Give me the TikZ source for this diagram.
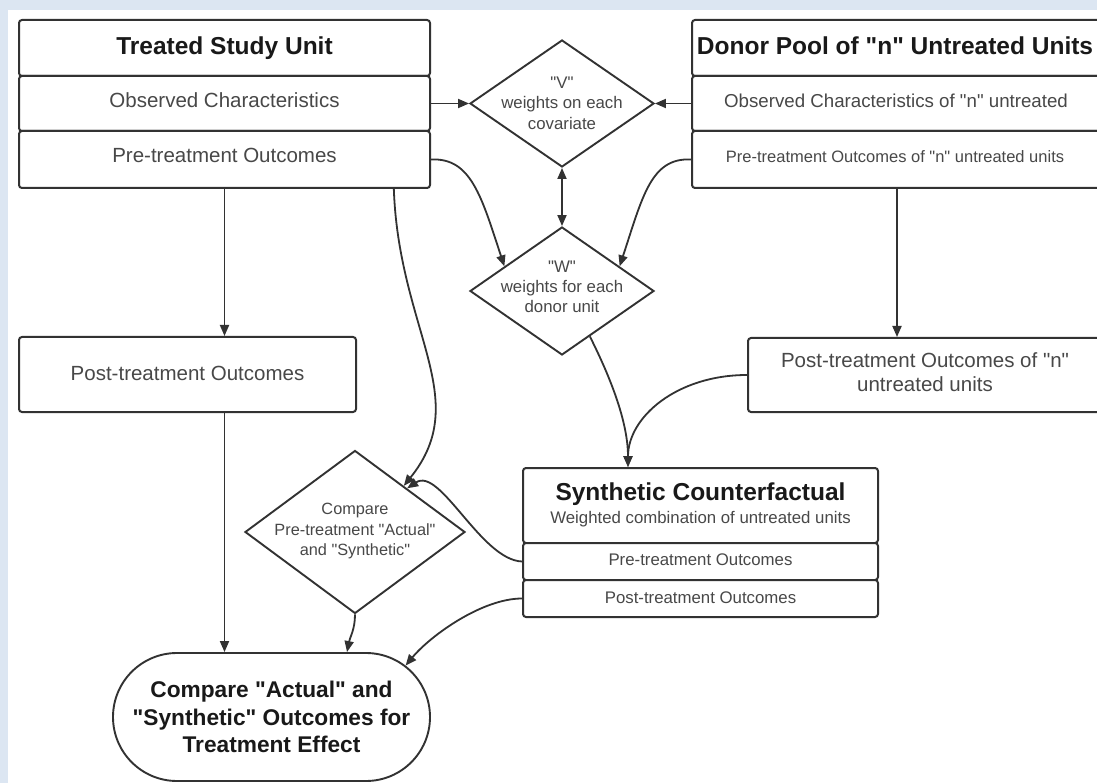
\documentclass[tikz,border=0pt]{standalone}
\usepackage{fontspec}
\setmainfont{Liberation Sans}
\usetikzlibrary{shapes.geometric,shapes.misc,arrows.meta,calc}
\definecolor{bgblue}{RGB}{220,230,242}
\definecolor{lnc}{RGB}{50,50,50}
\definecolor{txg}{RGB}{72,72,72}
\definecolor{txd}{RGB}{25,25,25}
\newcommand{\dq}{\textquotedbl}
\begin{document}
\begin{tikzpicture}[x=1pt,y=-1pt,
  row/.style={draw=lnc, line width=2pt, rounded corners=3pt, fill=white, inner sep=0pt},
  dia/.style={draw=lnc, line width=1.9pt, diamond, inner sep=0pt, fill=white},
  lbl/.style={anchor=base, inner sep=0pt, text=txg},
  ttl/.style={anchor=base, inner sep=0pt, text=txd, font=\fontsize{24.5}{28}\selectfont\bfseries},
  big/.style={font=\fontsize{20.5}{24}\selectfont},
  mid/.style={font=\fontsize{16.8}{20}\selectfont},
  conn/.style={draw=lnc, line width=1.8pt, -{Triangle[length=11pt,width=9pt]}},
  conn2/.style={draw=lnc, line width=1.8pt, {Triangle[length=11pt,width=9pt]}-{Triangle[length=11pt,width=9pt]}},
]
\useasboundingbox (0,0) rectangle (1097,783);
\clip (0,0) rectangle (1097,783);
\fill[bgblue] (0,0) rectangle (1097,783);
\fill[white] (8,10) rectangle (1097,783);

% Treated study unit
\node[row, minimum width=411pt, minimum height=56pt] (ttitle) at (224.5,48) {};
\node[row, minimum width=411pt, minimum height=55pt] (tobs) at (224.5,103.5) {};
\node[row, minimum width=411pt, minimum height=57pt] (tpre) at (224.5,159.5) {};
\node[ttl] (ttitleT) at (224.5,55) {Treated Study Unit};
\node[lbl, big] (tobsT) at (224.5,108) {Observed Characteristics};
\node[lbl, big] (tpreT) at (224.5,162.5) {Pre-treatment Outcomes};

% Donor pool
\node[row, minimum width=410pt, minimum height=56pt] (dtitle) at (897,48) {};
\node[row, minimum width=410pt, minimum height=55pt] (dobs) at (897,103.5) {};
\node[row, minimum width=410pt, minimum height=57pt] (dpre) at (897,159.5) {};
\node[ttl] (dtitleT) at (895,55) {Donor Pool of \dq n\dq\ Untreated Units};
\node[lbl, font=\fontsize{18.7}{22}\selectfont] (dobsT) at (896,108) {Observed Characteristics of \dq n\dq\ untreated};
\node[lbl, font=\fontsize{16.5}{20}\selectfont] (dpreT) at (895,162.5) {Pre-treatment Outcomes of \dq n\dq\ untreated units};

% V and W diamonds
\node[dia, minimum width=184pt, minimum height=127pt] (V) at (562,103.5) {};
\node[lbl, mid] (V1) at ($(V)+(0,-15)$) {\dq V\dq};
\node[lbl, mid] (V2) at ($(V)+(0,5.5)$) {weights on each};
\node[lbl, mid] (V3) at ($(V)+(0,26)$) {covariate};

\node[dia, minimum width=184pt, minimum height=128pt] (W) at (562,291) {};
\node[lbl, mid] (W1) at ($(W)+(0,-18)$) {\dq W\dq};
\node[lbl, mid] (W2) at ($(W)+(0,2)$) {weights for each};
\node[lbl, mid] (W3) at ($(W)+(0,21.5)$) {donor unit};

% Post-treatment boxes
\node[row, minimum width=337pt, minimum height=75pt] (lpost) at (187.5,374.5) {};
\node[lbl, big] (lpostT) at (187.5,380.5) {Post-treatment Outcomes};
\node[row, minimum width=354pt, minimum height=74pt] (dpost) at (925,375) {};
\node[lbl, big] (dpostT1) at (925,367.5) {Post-treatment Outcomes of \dq n\dq};
\node[lbl, big] (dpostT2) at (925,391.5) {untreated units};

% Compare diamond
\node[dia, minimum width=220pt, minimum height=163pt] (C) at (355,532) {};
\node[lbl, font=\fontsize{16.3}{20}\selectfont] (C1) at ($(C)+(0,-17.5)$) {Compare};
\node[lbl, font=\fontsize{16.3}{20}\selectfont] (C2) at ($(C)+(0,3)$) {Pre-treatment \dq Actual\dq};
\node[lbl, font=\fontsize{16.3}{20}\selectfont] (C3) at ($(C)+(0,23.5)$) {and \dq Synthetic\dq};

% Synthetic counterfactual
\node[row, minimum width=355pt, minimum height=75pt] (stitle) at (700.5,505.5) {};
\node[row, minimum width=355pt, minimum height=37pt] (spre) at (700.5,561.5) {};
\node[row, minimum width=355pt, minimum height=37pt] (spost) at (700.5,598.5) {};
\node[ttl] (stitleT) at (700.5,500) {Synthetic Counterfactual};
\node[lbl, mid] (ssubT) at (700.5,523) {Weighted combination of untreated units};
\node[lbl, mid] (spreT) at (700.5,565.5) {Pre-treatment Outcomes};
\node[lbl, mid] (spostT) at (700.5,603) {Post-treatment Outcomes};

% Final oval
\node[draw=lnc, line width=1.9pt, rounded rectangle, fill=white, inner sep=0pt,
      minimum width=317pt, minimum height=128pt] (O) at (271.5,717) {};
\node[ttl, font=\fontsize{22.7}{26}\selectfont\bfseries] (O1) at ($(O)+(0,-19.5)$) {Compare \dq Actual\dq\ and};
\node[ttl, font=\fontsize{22.7}{26}\selectfont\bfseries] (O2) at ($(O)+(0,8)$) {\dq Synthetic\dq\ Outcomes for};
\node[ttl, font=\fontsize{22.7}{26}\selectfont\bfseries] (O3) at ($(O)+(0,35)$) {Treatment Effect};

% Connectors
\draw[conn] (tobs.east) -- (V.west);
\draw[conn] (dobs.west) -- (V.east);
\draw[conn2] (V.south) -- (W.north);
\draw[conn] (tpre.east) .. controls +(40,-2) and +(-23,-70) .. ($(W.north)!0.62!(W.west)$);
\draw[conn] (dpre.west) .. controls +(-40,-2) and +(23,-70) .. ($(W.north)!0.62!(W.east)$);
\draw[conn] (tpre.south) -- (tpre.south |- lpost.north);
\draw[conn] (dpre.south) -- (dpre.south |- dpost.north);
\draw[conn] ($(tpre.south west)!0.91!(tpre.south east)$) .. controls +(5,142) and +(70,-87) .. ($(C.north)!0.44!(C.east)$);
\draw[conn] (spre.west) .. controls +(-41,-1.5) and +(33,-22) .. ($(C.north)!0.47!(C.east)$);
\draw[conn] ($(W.south)!0.3!(W.east)$) .. controls +(15,30) and +(0,-50) .. ($(stitle.north)+(-72.5,0)$);
\draw[conn] (dpost.west) .. controls +(-70,0) and +(0,-50) .. ($(stitle.north)+(-72.5,0)$);
\draw[conn] (tpre.south |- lpost.south) -- (tpre.south |- O.north);
\draw[conn] (C.south) .. controls +(0,15) and +(3,-15) .. ($(O.north)+(75.5,0)$);
\draw[conn] (spost.west) .. controls +(-40,0) and +(25,-30) .. (O.21);
\end{tikzpicture}
\end{document}
